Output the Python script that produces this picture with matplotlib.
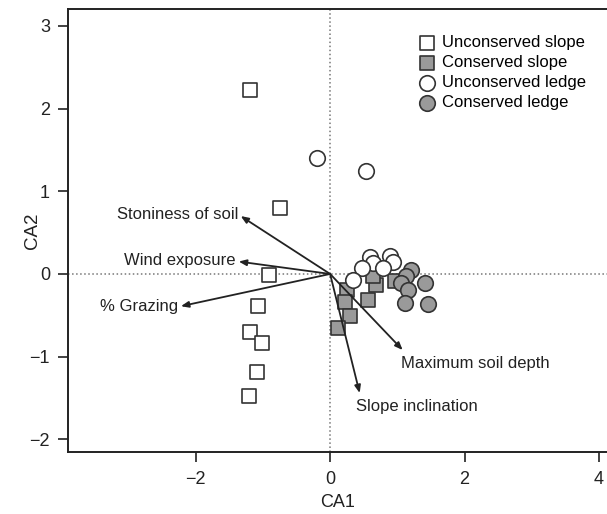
import numpy as np
import matplotlib
matplotlib.use("Agg")
import matplotlib.pyplot as plt

plt.rcParams['font.family'] = ['Liberation Sans', 'DejaVu Sans']

# site scores on the first two CA axes
unc_slope_x = [-1.19, -0.75, -0.91, -1.08, -1.19, -1.01, -1.09, -1.21]
unc_slope_y = [2.22, 0.80, -0.01, -0.39, -0.70, -0.83, -1.18, -1.47]

con_slope_x = [0.69, 0.96, 0.25, 0.22, 0.57, 0.30, 0.12, 0.64]
con_slope_y = [-0.13, -0.09, -0.19, -0.34, -0.32, -0.51, -0.65, -0.02]

unc_ledge_x = [-0.20, 0.53, 0.59, 0.64, 0.89, 0.94, 0.47, 0.79, 0.34]
unc_ledge_y = [1.40, 1.24, 0.21, 0.13, 0.22, 0.15, 0.07, 0.07, -0.07]

con_ledge_x = [1.21, 1.13, 1.06, 1.41, 1.16, 1.11, 1.45]
con_ledge_y = [0.05, -0.03, -0.11, -0.11, -0.19, -0.35, -0.36]

# environmental vectors
env_names = ["Stoniness of soil", "Wind exposure", "% Grazing",
             "Maximum soil depth", "Slope inclination"]
env_x = [-1.33, -1.36, -2.22, 1.08, 0.44]
env_y = [0.70, 0.15, -0.39, -0.92, -1.44]

EDGE = "#333333"
FILL = "#9a9a9a"

fig = plt.figure(figsize=(6.07, 5.14), dpi=100)
ax = fig.add_axes([0.112, 0.121, 0.888, 0.861])

ax.axhline(0, color="#777777", ls=":", lw=1.1, zorder=1)
ax.axvline(0, color="#777777", ls=":", lw=1.1, zorder=1)

sq = 90
ci = 125
ax.scatter(unc_slope_x, unc_slope_y, s=sq, marker="s", facecolor="white",
           edgecolor=EDGE, linewidth=1.2, zorder=3, label="Unconserved slope")
ax.scatter(con_slope_x, con_slope_y, s=sq, marker="s", facecolor=FILL,
           edgecolor=EDGE, linewidth=1.2, zorder=3, label="Conserved slope")
ax.scatter(unc_ledge_x, unc_ledge_y, s=ci, marker="o", facecolor="white",
           edgecolor=EDGE, linewidth=1.2, zorder=3, label="Unconserved ledge")
ax.scatter(con_ledge_x, con_ledge_y, s=ci, marker="o", facecolor=FILL,
           edgecolor=EDGE, linewidth=1.2, zorder=3, label="Conserved ledge")

# label offsets in points, (dx, dy, ha, va)
label_pos = [(-2, 1, "right", "center"), (-2, 1, "right", "center"),
             (-2, 0, "right", "center"), (-1, -4, "left", "top"),
             (-3, -4, "left", "top")]
for name, x, y, (dx, dy, ha, va) in zip(env_names, env_x, env_y, label_pos):
    ax.annotate("", xy=(x, y), xytext=(0, 0),
                arrowprops=dict(arrowstyle="-|>,head_length=0.45,head_width=0.18",
                                color="#222222", lw=1.3, shrinkA=0, shrinkB=0),
                zorder=4)
    ax.annotate(name, xy=(x, y), xytext=(dx, dy), textcoords="offset points",
                ha=ha, va=va, fontsize=12, color="#222222", zorder=5)

ax.set_xlim(-3.9, 4.12)
ax.set_ylim(-2.15, 3.2)
ax.set_xticks([-2, 0, 2, 4])
ax.set_yticks([-2, -1, 0, 1, 2, 3])
ax.tick_params(direction="out", length=7, width=1.2, labelsize=13,
               colors="#222222")
ax.tick_params(axis="x", pad=7)
ax.tick_params(axis="y", pad=6)
for side in ["left", "bottom", "top"]:
    ax.spines[side].set_linewidth(1.4)
    ax.spines[side].set_color("#222222")
ax.spines["right"].set_visible(False)

ax.set_xlabel("CA1", fontsize=13, color="#222222", labelpad=4)
ax.set_ylabel("CA2", fontsize=13.5, color="#222222", labelpad=-8)

ax.legend(loc="upper right", bbox_to_anchor=(0.985, 0.972), frameon=False,
          fontsize=12, labelspacing=0.3, handletextpad=0.3, handlelength=1.2,
          borderpad=0.3, scatterpoints=1)

fig.savefig("out.png", dpi=100)
